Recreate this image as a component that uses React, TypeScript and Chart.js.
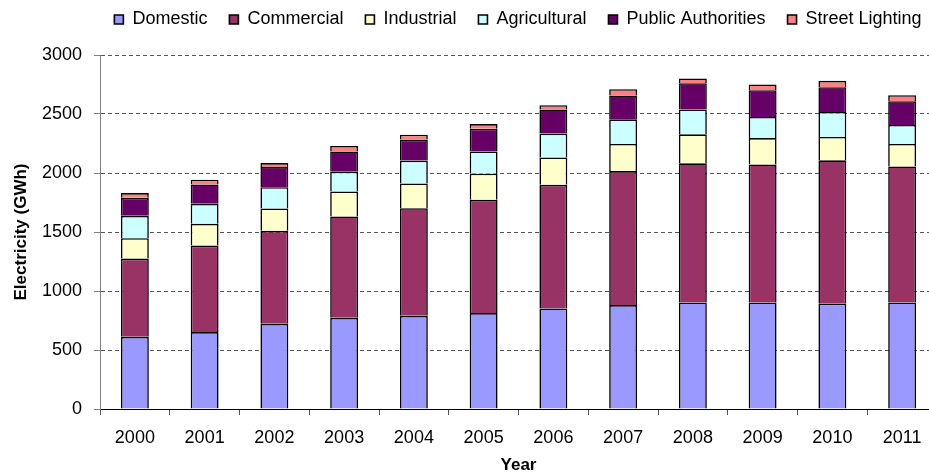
import React, { useEffect, useRef } from "react";
import { Chart, registerables } from "chart.js";

Chart.register(...registerables);

const years = ["2000", "2001", "2002", "2003", "2004", "2005", "2006", "2007", "2008", "2009", "2010", "2011"];
const domestic = [612, 652, 722, 773, 790, 813, 852, 881, 903, 903, 892, 903];
const commercial = [663, 733, 788, 859, 912, 960, 1048, 1135, 1179, 1170, 1215, 1153];
const industrial = [172, 184, 189, 212, 210, 221, 232, 230, 246, 223, 198, 190];
const agricultural = [190, 170, 181, 167, 193, 189, 202, 209, 210, 179, 212, 161];
const publicAuthorities = [153, 164, 170, 172, 178, 193, 204, 202, 223, 227, 210, 201];
const streetLighting = [40, 40, 34, 46, 42, 39, 36, 53, 40, 48, 54, 51];

const FONT = "'Liberation Sans', Arial, sans-serif";

export default function App() {
  const ref = useRef<HTMLCanvasElement | null>(null);
  useEffect(() => {
    if (!ref.current) return;
    const mk = (label: string, data: number[], color: string) => ({
      label,
      data,
      backgroundColor: color,
      borderColor: "#000000",
      borderWidth: 1.6,
      borderSkipped: "start" as const,
      inflateAmount: 0,
      categoryPercentage: 1,
      barPercentage: 0.4,
      yAxisID: "y",
      xAxisID: "x",
    });
    const chart = new Chart(ref.current, {
      type: "bar",
      data: {
        labels: years,
        datasets: [
          mk("Domestic", domestic, "#9999FF"),
          mk("Commercial", commercial, "#993366"),
          mk("Industrial", industrial, "#FFFFCC"),
          mk("Agricultural", agricultural, "#CCFFFF"),
          mk("Public Authorities", publicAuthorities, "#660066"),
          mk("Street Lighting", streetLighting, "#FF8080"),
        ],
      },
      options: {
        responsive: false,
        animation: false,
        devicePixelRatio: 1,
        layout: { padding: { top: -11.5, left: 0, right: 0, bottom: 0 } },
        plugins: {
          tooltip: { enabled: false },
          legend: {
            position: "top",
            labels: {
              boxWidth: 9,
              boxHeight: 9,
              padding: 22,
              color: "#000",
              font: { family: FONT, size: 18 },
            },
          },
        },
        scales: {
          x: {
            stacked: true,
            position: "bottom",
            grid: { drawOnChartArea: false, drawTicks: true, tickLength: 6, tickColor: "#555", offset: true },
            border: { display: true, color: "#000", width: 1 },
            ticks: { color: "#000", font: { family: FONT, size: 18 }, padding: 12, maxRotation: 0 },
            title: { display: true, text: "Year", color: "#000", font: { family: FONT, size: 17, weight: "bold" }, padding: { top: 8, bottom: 0 } },
            afterFit: (s: any) => { s.height = 67; },
          },
          xTop: {
            type: "category",
            position: "top",
            display: true,
            grid: { display: false },
            ticks: { display: false },
            border: { display: false },
            afterFit: (s: any) => { s.height = 16.5; },
          },
          y: {
            stacked: true,
            min: 0,
            max: 3000,
            position: "left",
            grid: {
              color: (ctx: any) => (ctx.tick && ctx.tick.value === 0 ? "rgba(0,0,0,0)" : "#555"),
              tickColor: "#808080",
              tickLength: 6,
              lineWidth: 1,
            },
            border: { display: true, color: "#808080", width: 1, dash: [4, 3] },
            ticks: {
              stepSize: 500,
              color: "#000",
              font: { family: FONT, size: 18 },
              padding: 12,
              callback: (v: any) => String(v),
            },
            title: { display: true, text: "Electricity (GWh)", color: "#000", font: { family: FONT, size: 17, weight: "bold" }, padding: { top: 11, bottom: 0 } },
            afterFit: (s: any) => { s.width = 100; },
          },
          yRight: {
            type: "linear",
            position: "right",
            display: true,
            grid: { display: false },
            ticks: { display: false },
            border: { display: false },
            afterFit: (s: any) => { s.width = 99; },
          },
        },
      } as any,
    });
    return () => chart.destroy();
  }, []);
  return (
    <div style={{ position: "fixed", left: 0, top: 0, width: 929, height: 476, overflow: "hidden", background: "#fff" }}>
      <canvas ref={ref} width={1036} height={476} style={{ width: 1036, height: 476, display: "block" }} />
    </div>
  );
}
